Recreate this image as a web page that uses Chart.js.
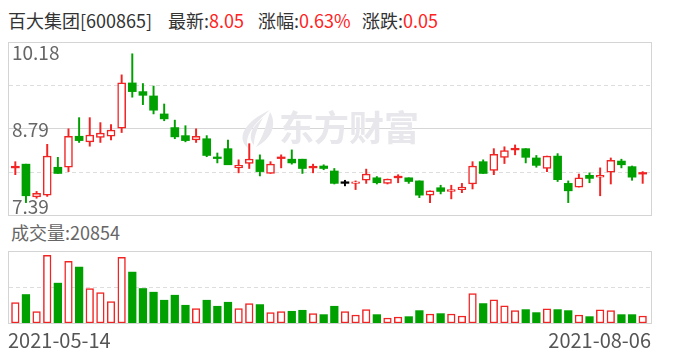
<!DOCTYPE html>
<html>
<head>
<meta charset="utf-8">
<script src="https://cdn.jsdelivr.net/npm/chart.js@4.4.0/dist/chart.umd.min.js"></script>
<style>
  body { margin: 0; background: #fff; font-family: "Noto Sans CJK SC", "Microsoft YaHei", sans-serif; }
  #wrap { position: relative; width: 688px; height: 360px; overflow: hidden; }
  .t { position: absolute; white-space: nowrap; font-size: 18px; line-height: 22px; color: #333; }
  .r { color: #f22; }
  #kbox { position: absolute; left: 8px; top: 42px; width: 644px; height: 174px; }
  #vbox { position: absolute; left: 8px; top: 251px; width: 644px; height: 105px; }
</style>
</head>
<body>
<div id="wrap">
  <div class="t" id="hName" style="left:8px;top:9px"></div>
  <div class="t" id="hLast" style="left:168px;top:9px"></div>
  <div class="t" id="hPct" style="left:258px;top:9px"></div>
  <div class="t" id="hChg" style="left:362px;top:9px"></div>
  <div class="t" id="hVol" style="left:11px;top:221px;color:#666"></div>
  <div id="kbox"><canvas id="kline" width="644" height="174"></canvas></div>
  <div id="vbox"><canvas id="vol" width="644" height="105"></canvas></div>
</div>
<script>
// 百大集团 600865, daily k-line 2021-05-14 .. 2021-08-06
const stockName = '百大集团';
const stockCode = '600865';

const dates = [
  '2021-05-14','2021-05-17','2021-05-18','2021-05-19','2021-05-20','2021-05-21','2021-05-24','2021-05-25','2021-05-26','2021-05-27',
  '2021-05-28','2021-05-31','2021-06-01','2021-06-02','2021-06-03','2021-06-04','2021-06-07','2021-06-08','2021-06-09','2021-06-10',
  '2021-06-11','2021-06-15','2021-06-16','2021-06-17','2021-06-18','2021-06-21','2021-06-22','2021-06-23','2021-06-24','2021-06-25',
  '2021-06-28','2021-06-29','2021-06-30','2021-07-01','2021-07-02','2021-07-05','2021-07-06','2021-07-07','2021-07-08','2021-07-09',
  '2021-07-12','2021-07-13','2021-07-14','2021-07-15','2021-07-16','2021-07-19','2021-07-20','2021-07-21','2021-07-22','2021-07-23',
  '2021-07-26','2021-07-27','2021-07-28','2021-07-29','2021-07-30','2021-08-02','2021-08-03','2021-08-04','2021-08-05','2021-08-06'
];

const open = [
  8.15,8.21,7.68,7.71,8.16,8.16,8.66,8.57,8.64,8.66, 8.79,9.52,9.38,9.31,9.02,8.80,8.67,8.60,8.62,8.30,
  8.46,8.15,8.22,8.28,8.06,8.30,8.29,8.29,8.15,8.18, 8.10,7.90,7.90,7.95,7.99,7.90,7.99,7.99,7.94,7.71,
  7.83,7.77,7.80,7.89,8.25,8.11,8.32,8.44,8.46,8.31, 8.14,8.34,7.90,7.84,8.03,8.00,8.08,8.26,8.17,8.05
];
const high = [
  8.25,8.21,7.77,8.53,8.32,8.78,8.96,8.96,8.88,8.85, 9.65,9.99,9.51,9.47,9.18,8.92,8.83,8.78,8.67,8.39,
  8.60,8.28,8.54,8.36,8.25,8.36,8.44,8.29,8.21,8.20, 8.14,7.95,7.94,8.13,8.01,7.97,8.04,7.99,7.94,7.78,
  7.87,7.87,7.90,8.25,8.28,8.46,8.49,8.52,8.46,8.35, 8.34,8.38,7.94,8.05,8.07,8.15,8.31,8.29,8.18,8.09
];
const low = [
  8.04,7.59,7.66,7.69,8.06,8.09,8.56,8.50,8.56,8.60, 8.72,9.29,9.17,9.02,8.91,8.62,8.57,8.56,8.33,8.23,
  8.20,8.07,8.14,8.02,8.06,8.15,8.21,8.06,8.07,8.12, 7.89,7.86,7.80,7.90,7.89,7.89,7.91,7.90,7.67,7.59,
  7.73,7.65,7.75,7.81,8.06,8.04,8.22,8.36,8.23,8.16, 8.09,7.93,7.59,7.84,7.91,7.70,7.89,8.15,7.95,7.90
];
const close = [
  8.15,7.70,7.74,8.34,8.06,8.66,8.59,8.68,8.71,8.76, 9.52,9.38,9.32,9.08,8.94,8.65,8.59,8.66,8.35,8.30,
  8.20,8.19,8.29,8.09,8.21,8.30,8.23,8.14,8.15,8.14, 7.90,7.90,7.92,8.05,7.91,7.97,7.99,7.93,7.71,7.78,
  7.77,7.80,7.84,8.18,8.06,8.37,8.43,8.44,8.32,8.19, 8.34,7.96,7.78,7.99,7.98,8.03,8.27,8.20,8.00,8.05
];
// close of the day before the first candle
const firstPrevClose = 8.10;

const volume = [
  61000,85000,34000,202000,119000,184000,167000,103000,91000,64000,
  196000,152000,103000,92000,68000,83000,53000,43000,68000,50000,
  62000,43000,58000,55000,31000,34000,35000,38000,28000,25000,
  50000,34000,24000,40000,25000,15000,18000,19000,37000,27000,
  28000,27000,21000,88000,58000,69000,51000,37000,40000,31000,
  42000,40000,37000,24000,19000,39000,37000,25000,25000,20854
];

// axis range and the labels shown on it
const priceMin = 7.39;
const priceMax = 10.18;
const priceTickLabels = ['10.18', '8.79', '7.39'];
const volMax = 215000;

const UP = '#f22323';
const DOWN = '#00a000';
const FLAT = '#000000';

function prevClose(i) { return i === 0 ? firstPrevClose : close[i - 1]; }
// 1 = up, -1 = down, 0 = unchanged
function dir(i) {
  if (close[i] > open[i]) return 1;
  if (close[i] < open[i]) return -1;
  if (close[i] > prevClose(i)) return 1;
  if (close[i] < prevClose(i)) return -1;
  return 0;
}
function lineColor(i) {
  let d = dir(i);
  return d > 0 ? UP : (d < 0 ? DOWN : FLAT);
}

// header
let last = close.length - 1;
let chg = close[last] - close[last - 1];
document.getElementById('hName').textContent = stockName + '[' + stockCode + ']';
document.getElementById('hLast').innerHTML = '最新:<span class="r">' + close[last].toFixed(2) + '</span>';
document.getElementById('hPct').innerHTML = '涨幅:<span class="r">' + (chg / close[last - 1] * 100).toFixed(2) + '%</span>';
document.getElementById('hChg').innerHTML = '涨跌:<span class="r">' + chg.toFixed(2) + '</span>';
document.getElementById('hVol').textContent = '成交量:' + volume[last];

// frame + grid lines, shared by both panels
const panelPlugin = {
  id: 'panel',
  beforeDatasetsDraw(chart, args, opts) {
    const ctx = chart.ctx;
    const a = chart.chartArea;
    const y = chart.scales.y;
    const w = chart.width;
    ctx.save();
    ctx.lineWidth = 1;
    (opts.grid || []).forEach(g => {
      let py = Math.round(y.getPixelForValue(g.value)) + 0.5;
      ctx.strokeStyle = g.dashed ? '#dddddd' : '#d6d6d6';
      ctx.setLineDash(g.dashed ? [4, 3] : []);
      ctx.beginPath();
      ctx.moveTo(1, py);
      ctx.lineTo(w - 1, py);
      ctx.stroke();
    });
    ctx.setLineDash([]);
    if (opts.draw) opts.draw(chart);
    ctx.restore();
  },
  afterDatasetsDraw(chart) {
    const ctx = chart.ctx;
    const a = chart.chartArea;
    ctx.save();
    ctx.strokeStyle = '#d4d4d4';
    ctx.lineWidth = 1;
    ctx.strokeRect(0.5, Math.round(a.top) + 0.5, chart.width - 1, Math.round(a.bottom - a.top));
    ctx.restore();
  }
};

function drawWatermark(ctx) {
  ctx.fillStyle = '#e7e7ec';
  ctx.font = 'bold 35px "Noto Sans CJK SC"';
  ctx.textAlign = 'left';
  ctx.textBaseline = 'middle';
  ctx.fillText('东方财富', 271, 86);
  // little flame logo
  ctx.beginPath();
  ctx.moveTo(262, 68);
  ctx.bezierCurveTo(236, 80, 228, 96, 240, 106);
  ctx.bezierCurveTo(236, 94, 246, 82, 262, 68);
  ctx.fill();
  ctx.beginPath();
  ctx.moveTo(262, 70);
  ctx.bezierCurveTo(270, 84, 262, 98, 248, 105);
  ctx.bezierCurveTo(256, 94, 258, 82, 262, 70);
  ctx.fill();
  ctx.beginPath();
  ctx.moveTo(255, 76);
  ctx.bezierCurveTo(242, 86, 240, 96, 246, 103);
  ctx.bezierCurveTo(246, 94, 250, 84, 255, 76);
  ctx.fill();
}

// price panel
const bodies = dates.map((d, i) => [open[i], close[i]]);
const wicks = dates.map((d, i) => [low[i], high[i]]);

new Chart(document.getElementById('kline'), {
  type: 'bar',
  plugins: [panelPlugin],
  data: {
    labels: dates,
    datasets: [{
      data: bodies,
      grouped: false,
      order: 0,
      barThickness: 8,
      minBarLength: 1.6,
      borderSkipped: false,
      backgroundColor: ctx => {
        let i = ctx.dataIndex;
        if (close[i] === open[i]) return lineColor(i);
        return close[i] > open[i] ? '#ffffff' : DOWN;
      },
      borderColor: ctx => lineColor(ctx.dataIndex),
      borderWidth: ctx => {
        let i = ctx.dataIndex;
        return close[i] > open[i] ? 1.5 : 0;
      }
    }, {
      data: wicks,
      grouped: false,
      order: 1,
      barThickness: 1.3,
      borderSkipped: false,
      backgroundColor: ctx => lineColor(ctx.dataIndex),
      borderWidth: 0
    }]
  },
  options: {
    responsive: false,
    animation: false,
    events: [],
    layout: { padding: { left: 2, right: 4, top: 0, bottom: 1 } },
    scales: {
      x: { display: false, offset: true },
      y: { display: false, min: priceMin, max: priceMax }
    },
    plugins: {
      legend: { display: false },
      tooltip: { enabled: false },
      panel: {
        grid: [
          { value: priceMax - (priceMax - priceMin) / 4, dashed: true },
          { value: (priceMax + priceMin) / 2, dashed: false },
          { value: priceMin + (priceMax - priceMin) / 4, dashed: true }
        ],
        draw: chart => {
          const ctx = chart.ctx;
          const a = chart.chartArea;
          const y = chart.scales.y;
          drawWatermark(ctx);
          ctx.fillStyle = '#666';
          ctx.font = '19px "Noto Sans CJK SC"';
          ctx.textAlign = 'left';
          ctx.textBaseline = 'alphabetic';
          ctx.fillText(priceTickLabels[0], 4, a.top + 18);
          ctx.fillText(priceTickLabels[1], 4, y.getPixelForValue((priceMax + priceMin) / 2) + 8);
          ctx.fillText(priceTickLabels[2], 4, a.bottom - 1);
        }
      }
    }
  }
});

// volume panel
new Chart(document.getElementById('vol'), {
  type: 'bar',
  plugins: [panelPlugin],
  data: {
    labels: dates,
    datasets: [{
      data: volume,
      barThickness: 7.6,
      borderSkipped: false,
      backgroundColor: ctx => dir(ctx.dataIndex) < 0 ? DOWN : '#ffffff',
      borderColor: ctx => dir(ctx.dataIndex) < 0 ? DOWN : UP,
      borderWidth: ctx => dir(ctx.dataIndex) < 0 ? 0 : 1.5
    }]
  },
  options: {
    responsive: false,
    animation: false,
    events: [],
    layout: { padding: { left: 2, right: 4, top: 0, bottom: 33 } },
    scales: {
      x: { display: false, offset: true },
      y: { display: false, min: 0, max: volMax }
    },
    plugins: {
      legend: { display: false },
      tooltip: { enabled: false },
      panel: {
        grid: [{ value: volMax / 2, dashed: true }],
        draw: chart => {
          const ctx = chart.ctx;
          const a = chart.chartArea;
          ctx.fillStyle = '#555';
          ctx.font = '20px "Noto Sans CJK SC"';
          ctx.textBaseline = 'alphabetic';
          ctx.textAlign = 'left';
          ctx.fillText(dates[0], 0, a.bottom + 25);
          ctx.textAlign = 'right';
          ctx.fillText(dates[dates.length - 1], chart.width - 1, a.bottom + 25);
        }
      }
    }
  }
});
</script>
</body>
</html>
